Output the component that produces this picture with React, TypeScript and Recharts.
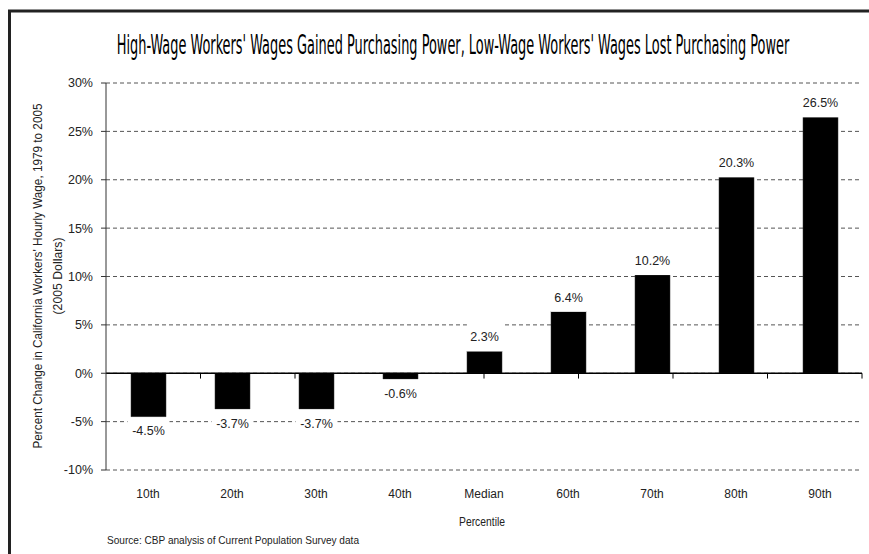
import React, { useLayoutEffect, useRef, useState } from 'react';
import { BarChart, Bar, XAxis, YAxis, CartesianGrid, ReferenceLine, LabelList } from 'recharts';

// Percentile groups along the x axis
const percentiles = ['10th', '20th', '30th', '40th', 'Median', '60th', '70th', '80th', '90th'];
// Percent change in real hourly wage, 1979 to 2005
const wageChange = [-4.5, -3.7, -3.7, -0.6, 2.3, 6.4, 10.2, 20.3, 26.5];
// Y axis ticks (percent)
const yTicks = [-10, -5, 0, 5, 10, 15, 20, 25, 30];

const chartTitle =
  "High-Wage Workers' Wages Gained Purchasing Power, Low-Wage Workers' Wages Lost Purchasing Power";
const yLabelLine1 = "Percent Change in California Workers' Hourly Wage, 1979 to 2005";
const yLabelLine2 = '(2005 Dollars)';
const xLabel = 'Percentile';
const sourceNote = 'Source: CBP analysis of Current Population Survey data';

const data = percentiles.map((p, i) => ({ percentile: p, change: wageChange[i] }));
// Category boundaries on a 0..n numeric axis, used for the tick marks on the zero line
const boundaries = percentiles.map((_, i) => i + 1);

const W = 869;
const H = 554;
const FONT = '"Liberation Sans", Arial, sans-serif';
const NARROW = '"Liberation Sans Narrow", "DejaVu Sans Condensed", "Liberation Sans", sans-serif';
const TITLE_WIDTH = 673;

const renderValueLabel = (props: any) => {
  const { x, y, width, height, value } = props;
  const v = Number(value);
  const top = Math.min(y, y + height);
  const bottom = Math.max(y, y + height);
  const cx = x + width / 2;
  const cy = v >= 0 ? top - 13.5 : bottom + 14.5;
  const text = `${v.toFixed(1)}%`;
  const boxW = text.length * 6.8 + 8;
  return (
    <g>
      <rect x={cx - boxW / 2} y={cy - 14} width={boxW} height={28} fill="#fff" />
      <text
        x={cx}
        y={cy}
        textAnchor="middle"
        dominantBaseline="central"
        fontFamily={FONT}
        fontSize={12.5}
        fill="#222"
      >
        {text}
      </text>
    </g>
  );
};

// Title squeezed horizontally to a fixed width, keeping the glyphs tall and condensed
function Title() {
  const ref = useRef<SVGTextElement>(null);
  const [sx, setSx] = useState(0.75);
  useLayoutEffect(() => {
    if (ref.current) {
      const len = ref.current.getComputedTextLength();
      if (len > 0) setSx(TITLE_WIDTH / len);
    }
  }, []);
  return (
    <text
      ref={ref}
      transform={`translate(453,54) scale(${sx},1)`}
      textAnchor="middle"
      fontFamily={NARROW}
      fontSize={27}
      fill="#000"
    >
      {chartTitle}
    </text>
  );
}

export default function App() {
  return (
    <div style={{ position: 'absolute', left: 0, top: 0, width: W, height: H, background: '#fff' }}>
      <BarChart
        width={W}
        height={H}
        data={data}
        margin={{ top: 83, right: 7, bottom: 54, left: 56 }}
      >
        <CartesianGrid vertical={false} stroke="#555" strokeDasharray="4 3" />
        <XAxis
          dataKey="percentile"
          axisLine={false}
          tickLine={false}
          tickSize={0}
          tickMargin={19}
          height={30}
          interval={0}
          tick={{ fontFamily: FONT, fontSize: 12, fill: '#222' }}
        />
        <XAxis xAxisId="edges" type="number" domain={[0, percentiles.length]} hide allowDataOverflow />
        <YAxis
          width={50}
          domain={[-10, 30]}
          ticks={yTicks}
          interval={0}
          tickFormatter={(v: number) => `${v}%`}
          axisLine={{ stroke: '#333' }}
          tickLine={{ stroke: '#333' }}
          tickSize={5}
          tickMargin={8}
          tick={{ fontFamily: FONT, fontSize: 12.5, fill: '#222' }}
        />
        <Bar dataKey="change" fill="#000" stroke="#333" strokeWidth={0.5} barSize={35} isAnimationActive={false}>
          <LabelList dataKey="change" content={renderValueLabel} />
        </Bar>
        <ReferenceLine y={0} stroke="#000" strokeWidth={1.5} />
        {boundaries.map((b) => (
          <ReferenceLine
            key={b}
            xAxisId="edges"
            segment={[
              { x: b, y: 0 },
              { x: b, y: -0.55 },
            ]}
            stroke="#000"
            strokeWidth={1}
          />
        ))}
      </BarChart>
      <svg
        width={W}
        height={H}
        style={{ position: 'absolute', left: 0, top: 0, pointerEvents: 'none' }}
      >
        <path d={`M 9.5 ${H} L 9.5 11 L ${W} 11`} fill="none" stroke="#222" strokeWidth={3} />
        <Title />
        <text
          transform="translate(41.5,276) rotate(-90)"
          textAnchor="middle"
          fontFamily={FONT}
          fontSize={12.5}
          fill="#222"
          textLength={345}
          lengthAdjust="spacingAndGlyphs"
        >
          {yLabelLine1}
        </text>
        <text
          transform="translate(61.5,276) rotate(-90)"
          textAnchor="middle"
          fontFamily={FONT}
          fontSize={12.5}
          fill="#222"
          textLength={77}
          lengthAdjust="spacingAndGlyphs"
        >
          {yLabelLine2}
        </text>
        <text x={482} y={526} textAnchor="middle" fontFamily={FONT} fontSize={12.5} fill="#222" textLength={46} lengthAdjust="spacingAndGlyphs">
          {xLabel}
        </text>
        <text x={107} y={544} fontFamily={FONT} fontSize={11} fill="#222" textLength={252} lengthAdjust="spacingAndGlyphs">
          {sourceNote}
        </text>
      </svg>
    </div>
  );
}
